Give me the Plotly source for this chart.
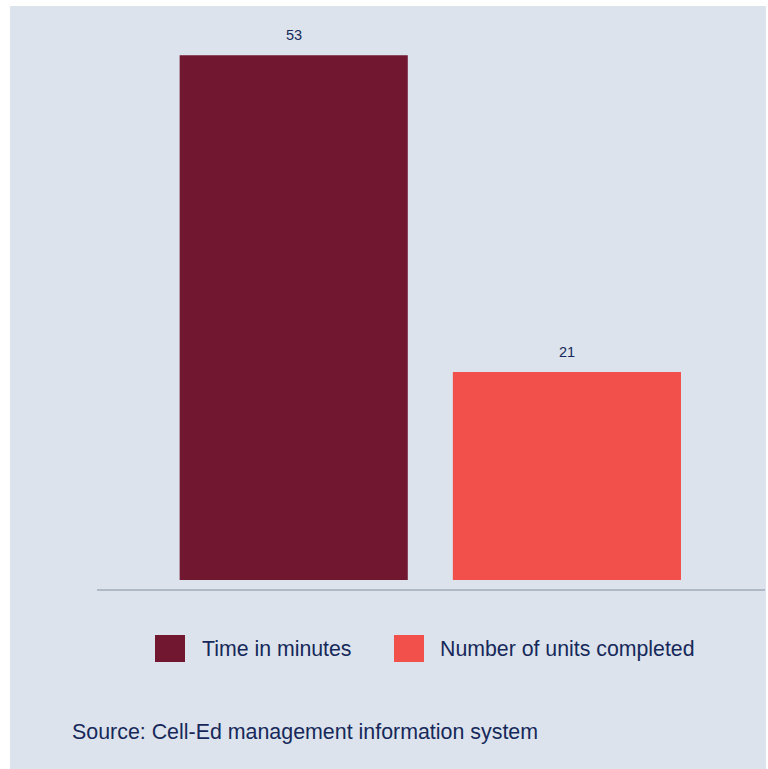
import plotly.graph_objects as go

# Data
series = ["Time in minutes", "Number of units completed"]
values = [53, 21]
colors = ["#711730", "#f2504b"]
source_text = "Source: Cell-Ed management information system"

BG = "#dce3ec"
TEXT = "#16295a"
FONT = "Liberation Sans, Arial, sans-serif"

W, H = 768, 769
ML, MR, MT, MB = 97, 3, 10, 180
plot_w = W - ML - MR
plot_h = H - MT - MB

def px_x(px):
    return (px - ML) / plot_w

def px_y(py):
    return (H - MB - py) / plot_h

fig = go.Figure()
for name, val, col in zip(series, values, colors):
    fig.add_trace(go.Bar(
        x=[name], y=[val], name=name, marker_color=col,
        marker_line_width=0,
        width=0.835, showlegend=False, hoverinfo="x+y",
    ))

# Value labels above bars
annotations = []
for name, val in zip(series, values):
    annotations.append(dict(
        x=name, y=val, xref="x", yref="y", text=str(val),
        showarrow=False, yanchor="bottom", yshift=10,
        font=dict(size=14.5, color=TEXT, family=FONT),
    ))

# Background panel and legend drawn below the axis
shapes = [dict(type="rect", xref="paper", yref="paper",
               x0=px_x(10), x1=px_x(766), y0=px_y(769), y1=px_y(6),
               fillcolor=BG, line_width=0, layer="below")]
legend_items = [(155, 200), (394, 438)]
for (sx, tx), name, col in zip(legend_items, series, colors):
    shapes.append(dict(type="rect", xref="paper", yref="paper",
                       x0=px_x(sx), x1=px_x(sx + 30),
                       y0=px_y(662), y1=px_y(635),
                       fillcolor=col, line_width=0))
    annotations.append(dict(x=px_x(tx), y=px_y(649), xref="paper", yref="paper",
                            text=name, showarrow=False, xanchor="left",
                            yanchor="middle",
                            font=dict(size=21.3, color=TEXT, family=FONT)))

annotations.append(dict(x=px_x(70), y=px_y(732), xref="paper", yref="paper",
                        text=source_text, showarrow=False, xanchor="left",
                        yanchor="middle",
                        font=dict(size=21.4, color=TEXT, family=FONT)))

ppu = 9.9
fig.update_layout(
    width=W, height=H,
    margin=dict(l=ML, r=MR, t=MT, b=MB),
    paper_bgcolor="white", plot_bgcolor=BG,
    barmode="overlay",
    font=dict(family=FONT, color=TEXT),
    xaxis=dict(range=[-0.72, 1.725], showticklabels=False, ticks="",
               showgrid=False, zeroline=False, showline=True,
               linecolor="#b0bac6", linewidth=2),
    yaxis=dict(range=[-(589 - 580) / ppu, (580 - MT) / ppu],
               showticklabels=False, ticks="", showgrid=False,
               zeroline=False, showline=False),
    shapes=shapes,
    annotations=annotations,
)

fig.write_html("out.html")
